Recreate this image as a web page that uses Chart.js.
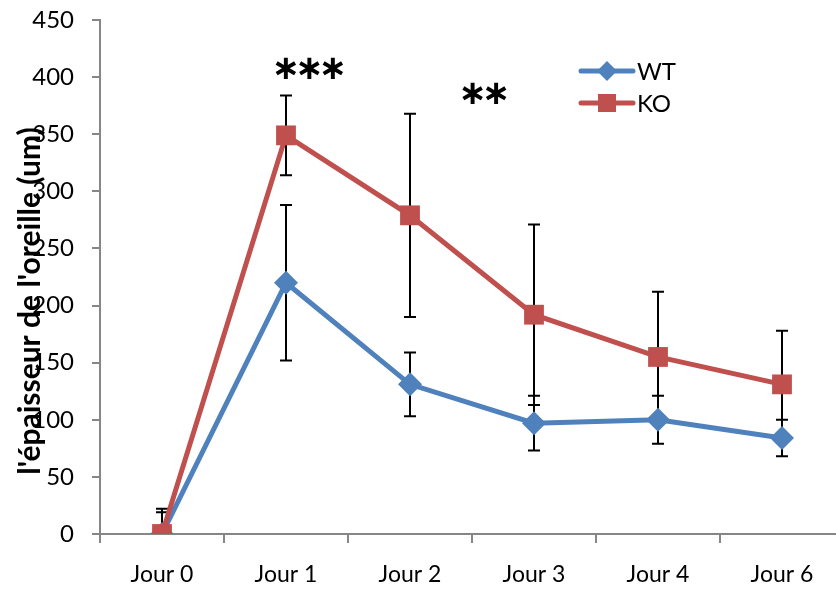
<!DOCTYPE html>
<html>
<head>
<meta charset="utf-8">
<script src="https://cdn.jsdelivr.net/npm/chart.js@4"></script>
<style>
  body { margin: 0; overflow: hidden; background: #fff; }
  #wrap { width: 858px; height: 592px; }
</style>
</head>
<body>
<div id="wrap"><canvas id="dataChart" width="858" height="592"></canvas></div>
<script>
// Data
const days = ["Jour 0", "Jour 1", "Jour 2", "Jour 3", "Jour 4", "Jour 6"];
const wtValues = [0, 220, 131, 97, 100, 84];
const wtErrors = [19, 68, 28, 24, 21, 16];
const koValues = [0, 349, 279, 192, 155, 131];
const koErrors = [22, 35, 89, 79, 57, 47];
const yTicks = [0, 50, 100, 150, 200, 250, 300, 350, 400, 450];

// significance marks: text, category position, value
const starTexts = ["***", "**"];
const starPos = [1.19, 2.6];
const starVals = [406, 384];

const FONT = "Lato, 'Open Sans', sans-serif";
const BLUE = "#4F81BD";
const RED = "#C0504D";

// error bars under the lines
const errorBars = {
    id: "errorBars",
    beforeDatasetsDraw(chart) {
        const ctx = chart.ctx;
        const x = chart.scales.x, y = chart.scales.y;
        const area = chart.chartArea;
        const sets = [[wtValues, wtErrors], [koValues, koErrors]];
        ctx.save();
        ctx.beginPath();
        ctx.rect(area.left, area.top, area.right - area.left, area.bottom - area.top);
        ctx.clip();
        ctx.strokeStyle = "#000";
        ctx.lineWidth = 2;
        sets.forEach(([vals, errs]) => {
            vals.forEach((v, i) => {
                const px = x.getPixelForValue(i);
                const top = y.getPixelForValue(v + errs[i]);
                const bot = y.getPixelForValue(v - errs[i]);
                ctx.beginPath();
                ctx.moveTo(px, top); ctx.lineTo(px, bot);
                ctx.moveTo(px - 6, top); ctx.lineTo(px + 6, top);
                ctx.moveTo(px - 6, bot); ctx.lineTo(px + 6, bot);
                ctx.stroke();
            });
        });
        ctx.restore();
    }
};

// y title, stars and legend
const extras = {
    id: "extras",
    afterDraw(chart) {
        const ctx = chart.ctx;
        const x = chart.scales.x, y = chart.scales.y;
        ctx.save();

        // y axis title, overlapping the tick labels like the original
        ctx.translate(30, 301);
        ctx.rotate(-Math.PI / 2);
        ctx.font = "bold 30px " + FONT;
        ctx.fillStyle = "#000";
        ctx.textAlign = "center";
        ctx.textBaseline = "middle";
        ctx.fillText("l'épaisseur de l'oreille (um)", 0, 0);
        ctx.setTransform(1, 0, 0, 1, 0, 0);

        // stars, one glyph at a time (asterisk operator is vertically centred)
        ctx.font = "bold 34px 'DejaVu Sans'";
        starTexts.forEach((t, i) => {
            const cx = x.getPixelForValue(starPos[i]);
            const cy = y.getPixelForValue(starVals[i]);
            const n = t.length;
            for (let k = 0; k < n; k++) {
                ctx.fillText("\u2217", cx + (k - (n - 1) / 2) * 23.5, cy);
            }
        });

        // legend
        chart.data.datasets.forEach((ds, i) => {
            const ly = 71 + i * 32;
            ctx.strokeStyle = ds.borderColor;
            ctx.lineWidth = 5;
            ctx.lineCap = "round";
            ctx.beginPath();
            ctx.moveTo(581, ly); ctx.lineTo(633, ly);
            ctx.stroke();
            ctx.fillStyle = ds.borderColor;
            if (ds.pointStyle === "rectRot") {
                ctx.beginPath();
                ctx.moveTo(607, ly - 10); ctx.lineTo(617, ly);
                ctx.lineTo(607, ly + 10); ctx.lineTo(597, ly);
                ctx.closePath(); ctx.fill();
            } else {
                ctx.fillRect(598, ly - 9, 18, 18);
            }
            ctx.fillStyle = "#000";
            ctx.font = "24px " + FONT;
            ctx.textAlign = "left";
            ctx.textBaseline = "middle";
            ctx.fillText(ds.label, 637, ly + 1);
        });
        ctx.restore();
    }
};

function createChart() {
    const ctx = document.getElementById("dataChart").getContext("2d");
    new Chart(ctx, {
        type: "line",
        data: {
            labels: days,
            datasets: [{
                label: "WT",
                data: wtValues,
                borderColor: BLUE,
                backgroundColor: BLUE,
                borderWidth: 5,
                pointStyle: "rectRot",
                pointRadius: 12,
                pointBorderWidth: 0,
                order: 2,
                fill: false
            }, {
                label: "KO",
                data: koValues,
                borderColor: RED,
                backgroundColor: RED,
                borderWidth: 5,
                pointStyle: "rect",
                pointRadius: 14,
                pointBorderWidth: 0,
                order: 1,
                fill: false
            }]
        },
        options: {
            responsive: false,
            animation: false,
            layout: { padding: { top: 20, right: 6, left: 0, bottom: 0 } },
            plugins: { legend: { display: false }, tooltip: { enabled: false } },
            scales: {
                x: {
                    type: "category",
                    offset: true,
                    grid: { offset: true, drawOnChartArea: false, color: "#868686", tickLength: 9, lineWidth: 2 },
                    border: { color: "#868686", width: 2 },
                    ticks: { color: "#000", font: { family: FONT, size: 23 }, padding: 18 },
                    afterFit: s => { s.height = 58; s.paddingLeft = 0; s.paddingRight = 0; }
                },
                y: {
                    min: 0,
                    max: 450,
                    afterBuildTicks: s => { s.ticks = yTicks.map(v => ({ value: v })); },
                    grid: { drawOnChartArea: false, color: "#868686", tickLength: 8, lineWidth: 2 },
                    border: { color: "#868686", width: 2 },
                    ticks: { color: "#000", font: { family: FONT, size: 24 }, padding: 18 },
                    afterFit: s => { s.width = 100; s.paddingTop = 0; s.paddingBottom = 0; }
                }
            }
        },
        plugins: [errorBars, extras]
    });
}

createChart();
</script>
</body>
</html>
